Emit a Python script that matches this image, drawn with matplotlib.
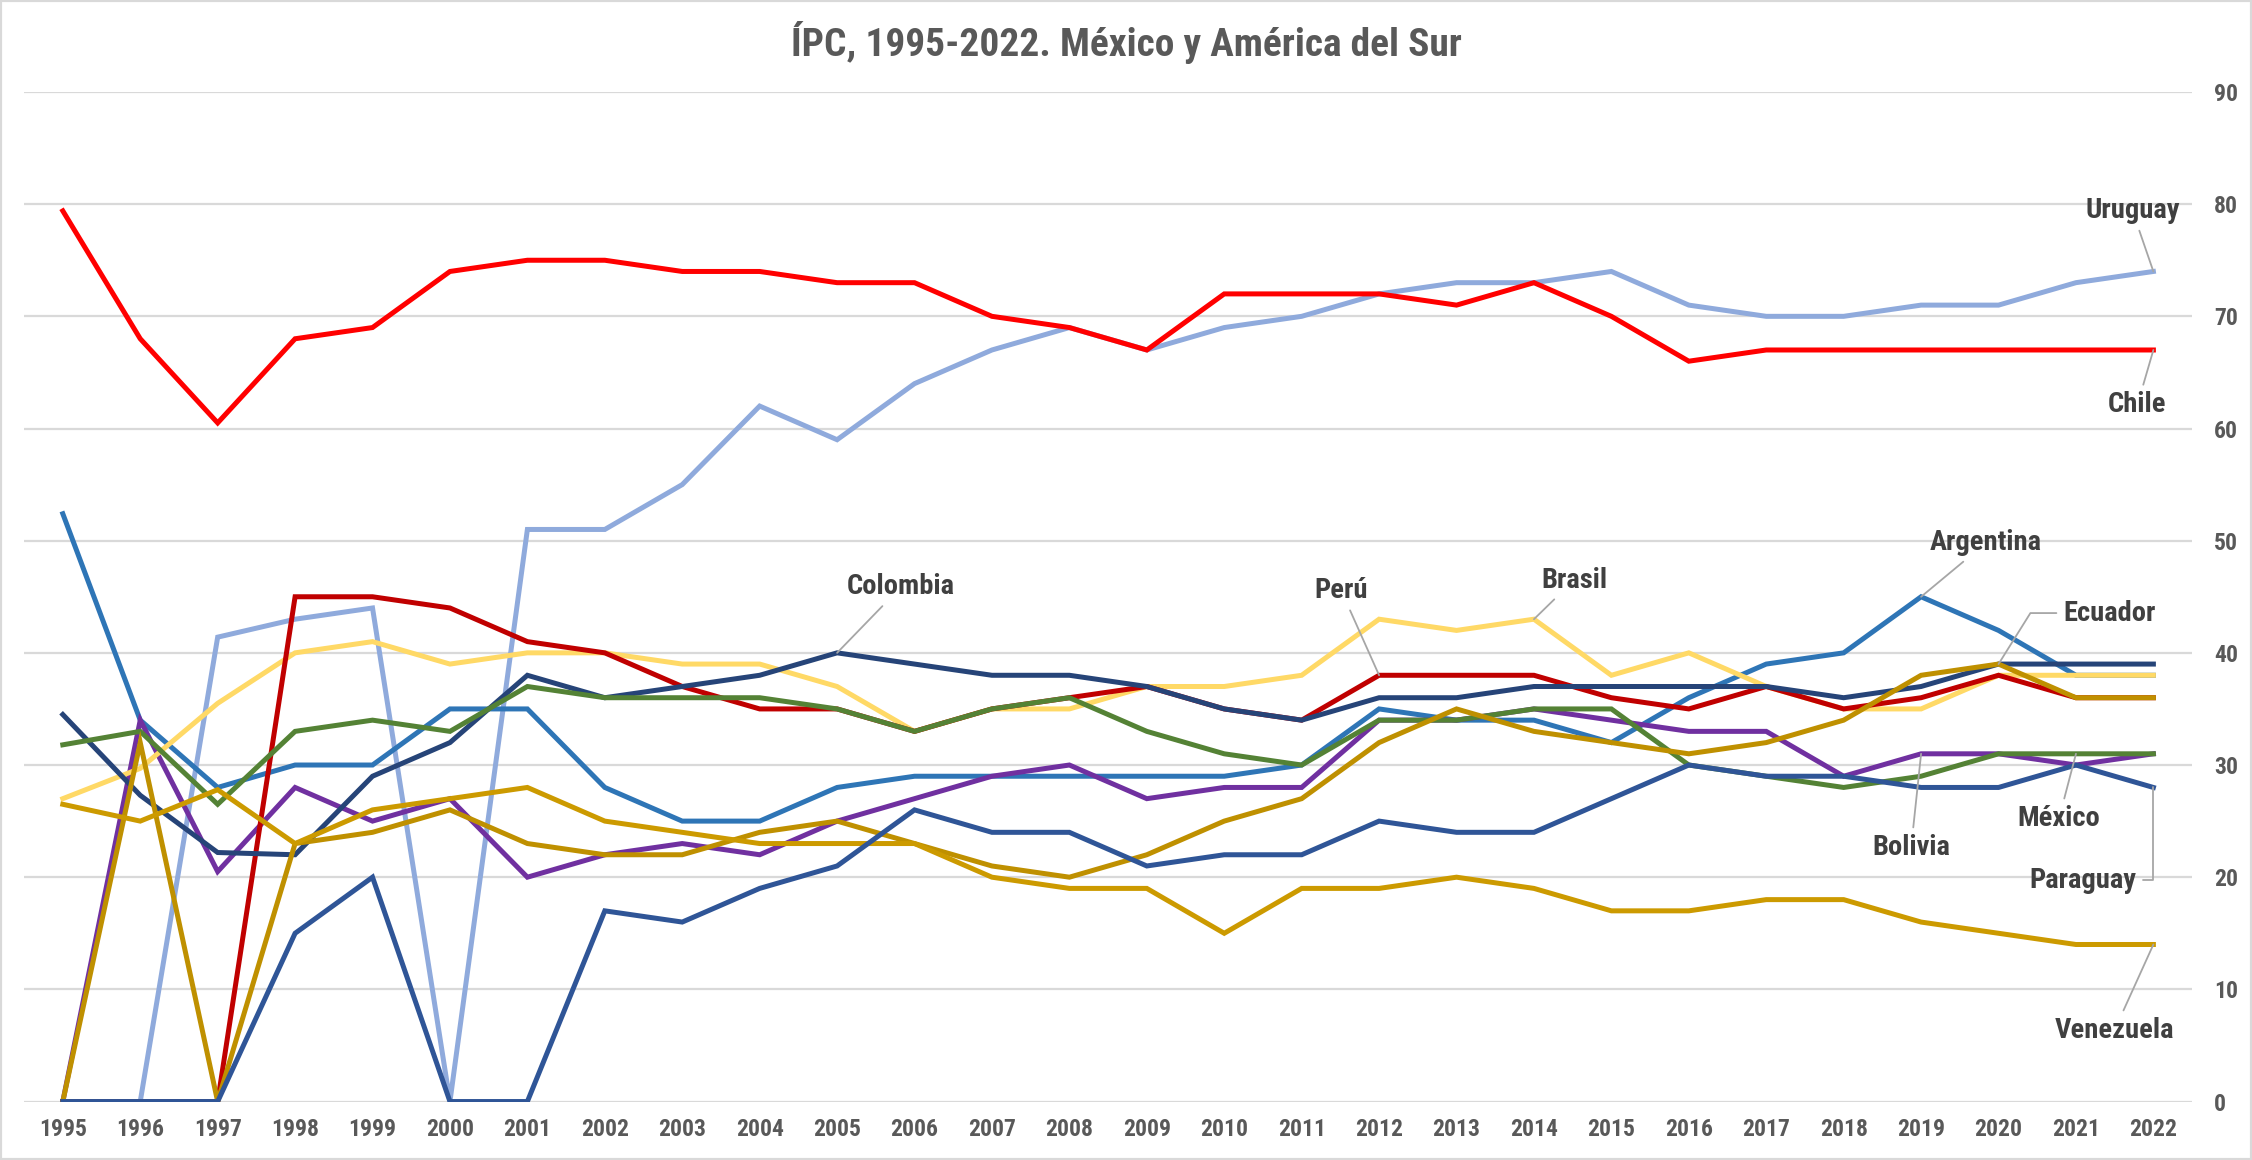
import matplotlib
matplotlib.use('Agg')
import matplotlib.pyplot as plt
from matplotlib.patches import Rectangle

# condensed face like the original, with plain fallbacks
plt.rcParams['font.family'] = ['Roboto Condensed', 'Liberation Sans', 'DejaVu Sans']
plt.rcParams['font.weight'] = 'bold'

years = list(range(1995, 2023))

uruguay = [0, 0, 41.4, 43, 44, 0, 51, 51, 55, 62, 59, 64, 67, 69, 67, 69, 70, 72, 73, 73, 74, 71, 70, 70, 71, 71, 73, 74]
chile = [79.4, 68, 60.5, 68, 69, 74, 75, 75, 74, 74, 73, 73, 70, 69, 67, 72, 72, 72, 71, 73, 70, 66, 67, 67, 67, 67, 67, 67]
argentina = [52.4, 34, 28, 30, 30, 35, 35, 28, 25, 25, 28, 29, 29, 29, 29, 29, 30, 35, 34, 34, 32, 36, 39, 40, 45, 42, 38, 38]
bolivia = [0, 34, 20.5, 28, 25, 27, 20, 22, 23, 22, 25, 27, 29, 30, 27, 28, 28, 34, 34, 35, 34, 33, 33, 29, 31, 31, 30, 31]
brasil = [27, 29.7, 35.5, 40, 41, 39, 40, 40, 39, 39, 37, 33, 35, 35, 37, 37, 38, 43, 42, 43, 38, 40, 37, 35, 35, 38, 38, 38]
peru = [0, 0, 0, 45, 45, 44, 41, 40, 37, 35, 35, 33, 35, 36, 37, 35, 34, 38, 38, 38, 36, 35, 37, 35, 36, 38, 36, 36]
colombia = [34.5, 27.3, 22.2, 22, 29, 32, 38, 36, 37, 38, 40, 39, 38, 38, 37, 35, 34, 36, 36, 37, 37, 37, 37, 36, 37, 39, 39, 39]
mexico = [31.8, 33, 26.5, 33, 34, 33, 37, 36, 36, 36, 35, 33, 35, 36, 33, 31, 30, 34, 34, 35, 35, 30, 29, 28, 29, 31, 31, 31]
ecuador = [0, 32, 0, 23, 24, 26, 23, 22, 22, 24, 25, 23, 21, 20, 22, 25, 27, 32, 35, 33, 32, 31, 32, 34, 38, 39, 36, 36]
venezuela = [26.5, 25, 27.8, 23, 26, 27, 28, 25, 24, 23, 23, 23, 20, 19, 19, 15, 19, 19, 20, 19, 17, 17, 18, 18, 16, 15, 14, 14]
paraguay = [0, 0, 0, 15, 20, 0, 0, 17, 16, 19, 21, 26, 24, 24, 21, 22, 22, 25, 24, 24, 27, 30, 29, 29, 28, 28, 30, 28]

# drawing order (later = on top)
series = [
    ('Uruguay', uruguay, '#8FAADC'),
    ('Chile', chile, '#FF0000'),
    ('Argentina', argentina, '#2E75B6'),
    ('Bolivia', bolivia, '#7030A0'),
    ('Brasil', brasil, '#FFD966'),
    ('Perú', peru, '#C00000'),
    ('Colombia', colombia, '#264478'),
    ('México', mexico, '#548235'),
    ('Ecuador', ecuador, '#BF9000'),
    ('Venezuela', venezuela, '#CC9A00'),
    ('Paraguay', paraguay, '#2F5597'),
]

# label: (year it points to, text offset in pixels, connection style)
labels = {
    'Uruguay': (2022, (-21, 61), 'arc3'),
    'Chile': (2022, (-16, -55), 'arc3'),
    'Argentina': (2019, (65, 54), 'arc3'),
    'Ecuador': (2020, (111, 51), 'angle,angleA=0,angleB=58,rad=0'),
    'México': (2021, (-17, -65), 'arc3'),
    'Bolivia': (2019, (-10, -94), 'arc3'),
    'Paraguay': (2022, (-71, -93), 'angle,angleA=0,angleB=90,rad=0'),
    'Venezuela': (2022, (-39, -86), 'arc3'),
    'Colombia': (2005, (64, 66), 'arc3'),
    'Perú': (2012, (-38, 85), 'arc3'),
    'Brasil': (2014, (40, 39), 'arc3'),
}

fig = plt.figure(figsize=(22.52, 11.6), dpi=100)
ax = fig.add_axes([0.0107, 0.0504, 0.9627, 0.8703])

x = list(range(len(years)))
for name, vals, col in series:
    ax.plot(x, vals, color=col, lw=3.6, solid_joinstyle='miter', zorder=3)

for name, vals, col in series:
    yr, off, cs = labels[name]
    i = years.index(yr)
    ax.annotate(name, xy=(i, vals[i]), xytext=off, textcoords='offset pixels',
                ha='center', va='center', fontsize=20.5, fontweight='bold',
                color='#404040', zorder=5,
                arrowprops=dict(arrowstyle='-', color='#A6A6A6', lw=1.3,
                                shrinkA=3, shrinkB=0, connectionstyle=cs))

ax.set_xlim(-0.5, len(years) - 0.5)
ax.set_ylim(0, 90)
ax.set_xticks(x)
ax.set_xticklabels([str(y) for y in years])
ax.set_yticks(range(0, 91, 10))
ax.yaxis.tick_right()
ax.tick_params(axis='both', length=0, labelsize=17, labelcolor='#595959')
ax.tick_params(axis='x', pad=12)
ax.tick_params(axis='y', pad=16)
for lab in ax.get_xticklabels() + ax.get_yticklabels():
    lab.set_fontweight('bold')
ax.grid(axis='y', color='#D9D9D9', lw=1.6, zorder=0)
ax.set_axisbelow(True)
for s in ax.spines.values():
    s.set_visible(False)

fig.text(0.5, 0.9517, 'ÍPC, 1995-2022. México y América del Sur', ha='center',
         va='baseline', fontsize=28.4, fontweight='bold', color='#595959')

fig.patches.append(Rectangle((0, 0), 1, 1, transform=fig.transFigure, fill=False,
                             edgecolor='#D9D9D9', lw=3))

fig.savefig('out.png', dpi=100)
